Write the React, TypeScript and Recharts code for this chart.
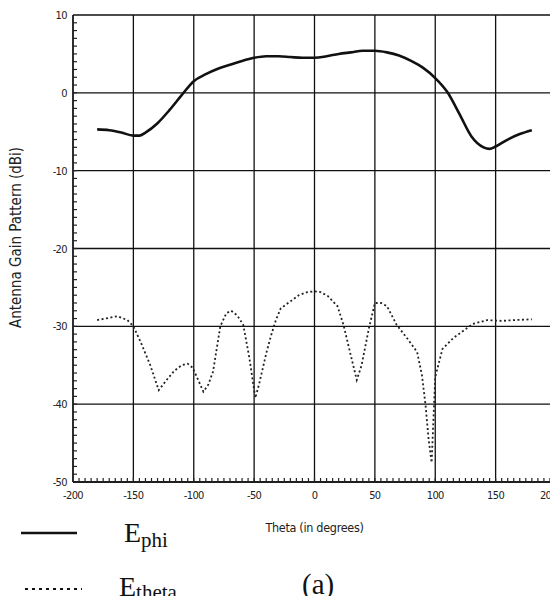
import React from "react";
import { LineChart, Line, XAxis, YAxis, CartesianGrid, Label } from "recharts";

// E_phi (solid)
const ephiTheta = [-180, -170, -160, -150, -145, -140, -130, -120, -110, -100, -90, -80, -70, -60, -50, -40, -30, -20, -10, 0, 10, 20, 30, 40, 50, 60, 70, 80, 90, 100, 110, 120, 130, 140, 145, 150, 160, 170, 180];
const ephiGain = [-4.7, -4.8, -5.1, -5.5, -5.5, -5.1, -3.9, -2.2, -0.3, 1.5, 2.4, 3.1, 3.6, 4.1, 4.5, 4.7, 4.7, 4.6, 4.5, 4.5, 4.7, 5.0, 5.2, 5.4, 5.4, 5.2, 4.8, 4.1, 3.2, 1.9, 0.1, -2.7, -5.6, -7.0, -7.2, -6.9, -6.0, -5.3, -4.8];

// E_theta (dotted)
const ethetaTheta = [-180, -170, -163, -155, -150, -144, -136, -129, -122, -116, -110, -105, -101, -96, -92, -88, -84, -78, -73, -69, -64, -59, -54, -49, -46, -40, -36, -32, -28, -20, -13, -6, 0, 5, 11, 19, 24, 30, 35, 39, 45, 50, 55, 60, 68, 77, 85, 89, 92, 94.5, 97, 100, 106, 115, 123, 131, 143, 155, 165, 180];
const ethetaGain = [-29.2, -28.9, -28.7, -29.2, -30.0, -32.0, -35.0, -38.2, -36.8, -35.7, -35.0, -34.8, -35.3, -37.0, -38.4, -37.5, -35.8, -30.0, -28.3, -28.0, -28.6, -29.8, -34.0, -39.2, -37.5, -33.5, -31.2, -29.2, -27.7, -26.8, -26.0, -25.6, -25.5, -25.6, -26.1, -27.4, -29.8, -33.7, -36.9, -35.0, -30.3, -27.0, -27.0, -27.4, -29.8, -31.6, -33.3, -36.3, -40.2, -44.5, -47.5, -36.5, -32.9, -31.5, -30.6, -29.7, -29.2, -29.3, -29.2, -29.1];

const xMajor = [-200, -150, -100, -50, 0, 50, 100, 150, 200];
const yMajor = [-50, -40, -30, -20, -10, 0, 10];
const xMinor: number[] = [];
for (let v = -200; v <= 200; v += 5) xMinor.push(v);
const yMinor: number[] = [];
for (let v = -50; v <= 10; v += 1) yMinor.push(v);

const ephiData = ephiTheta.map((t, i) => ({ theta: t, ephi: ephiGain[i] }));
const ethetaData = ethetaTheta.map((t, i) => ({ theta: t, etheta: ethetaGain[i] }));

const tickFont = "'DejaVu Sans Condensed', 'DejaVu Sans', sans-serif";

const XTick = (props: any) => {
  const { x, y, payload } = props;
  const v = payload.value;
  const major = v % 50 === 0;
  const anchor = v === 200 ? "end" : "middle";
  const tx = v === 200 ? x + 1 : x;
  return (
    <g>
      {v !== -200 && v !== 200 && <line x1={x} x2={x} y1={y} y2={y - 4} stroke="#222" strokeWidth={1.2} />}
      {major && (
        <text x={tx} y={y + 17} textAnchor={anchor} fontSize={11} fontFamily={tickFont} fill="#222" letterSpacing={-0.6}>
          {v}
        </text>
      )}
    </g>
  );
};

const YTick = (props: any) => {
  const { x, y, payload } = props;
  const v = payload.value;
  const major = v % 10 === 0;
  return (
    <g>
      {v !== 10 && v !== -50 && <line x1={x} x2={x + 4} y1={y} y2={y} stroke="#222" strokeWidth={1.2} />}
      {major && (
        <text x={x - 6} y={y + 4} textAnchor="end" fontSize={11} fontFamily={tickFont} fill="#222" letterSpacing={-0.6}>
          {v}
        </text>
      )}
    </g>
  );
};

const serif = "'Liberation Serif', 'Times New Roman', serif";

export default function App() {
  return (
    <div style={{ position: "relative", width: 550, height: 596, marginBottom: -8, overflow: "hidden" }}>
      <LineChart width={550} height={596} margin={{ top: 7, right: 2, left: 0, bottom: 82 }}>
        <CartesianGrid
          stroke="#111"
          strokeWidth={1.3}
          horizontalValues={yMajor}
          verticalValues={xMajor}
        />
        <XAxis
          type="number"
          dataKey="theta"
          domain={[-200, 200]}
          ticks={xMinor}
          interval={0}
          allowDataOverflow
          height={40}
          tickSize={0}
          tickMargin={0}
          tickLine={false}
          axisLine={{ stroke: "#111", strokeWidth: 1.3 }}
          tick={<XTick />}
        >
          <Label
            content={(p: any) => {
              const vb = p.viewBox || {};
              return (
                <text x={vb.x + vb.width / 2} y={vb.y + 50} textAnchor="middle" fontSize={12.5} fontFamily={tickFont} fill="#222" letterSpacing={-0.3}>
                  Theta (in degrees)
                </text>
              );
            }}
          />
        </XAxis>
        <YAxis
          type="number"
          domain={[-50, 10]}
          ticks={yMinor}
          interval={0}
          allowDataOverflow
          width={65}
          tickSize={0}
          tickMargin={0}
          tickLine={false}
          axisLine={{ stroke: "#111", strokeWidth: 1.3 }}
          tick={<YTick />}
        >
          <Label
            content={(p: any) => {
              const vb = p.viewBox || {};
              const cx = vb.x + 13;
              const cy = vb.y + vb.height / 2 - 11;
              return (
                <text x={cx} y={cy} transform={`rotate(-90, ${cx}, ${cy})`} textAnchor="middle" fontSize={15} fontFamily={tickFont} fill="#222">
                  Antenna Gain Pattern (dBi)
                </text>
              );
            }}
          />
        </YAxis>
        <Line
          data={ephiData}
          dataKey="ephi"
          type="monotone"
          stroke="#111"
          strokeWidth={2.6}
          dot={false}
          isAnimationActive={false}
        />
        <Line
          data={ethetaData}
          dataKey="etheta"
          type="linear"
          stroke="#222"
          strokeWidth={1.8}
          strokeDasharray="2 2.5"
          dot={false}
          isAnimationActive={false}
        />
      </LineChart>
      <svg width={550} height={596} style={{ position: "absolute", left: 0, top: 0, pointerEvents: "none" }}>
        <line x1={13} x2={69} y1={525} y2={525} stroke="#111" strokeWidth={2.6} />
        <line x1={17} x2={74} y1={581} y2={581} stroke="#111" strokeWidth={2.2} strokeDasharray="3 4" />
        <text x={116} y={534} fontSize={28} fontFamily={serif} fill="#111">
          E<tspan fontSize={21} dy={5}>phi</tspan>
        </text>
        <text x={111} y={588} fontSize={28} fontFamily={serif} fill="#111">
          E<tspan fontSize={21} dy={3}>theta</tspan>
        </text>
        <text x={294} y={586} fontSize={29} fontFamily={serif} fill="#111">
          (a)
        </text>
      </svg>
    </div>
  );
}
